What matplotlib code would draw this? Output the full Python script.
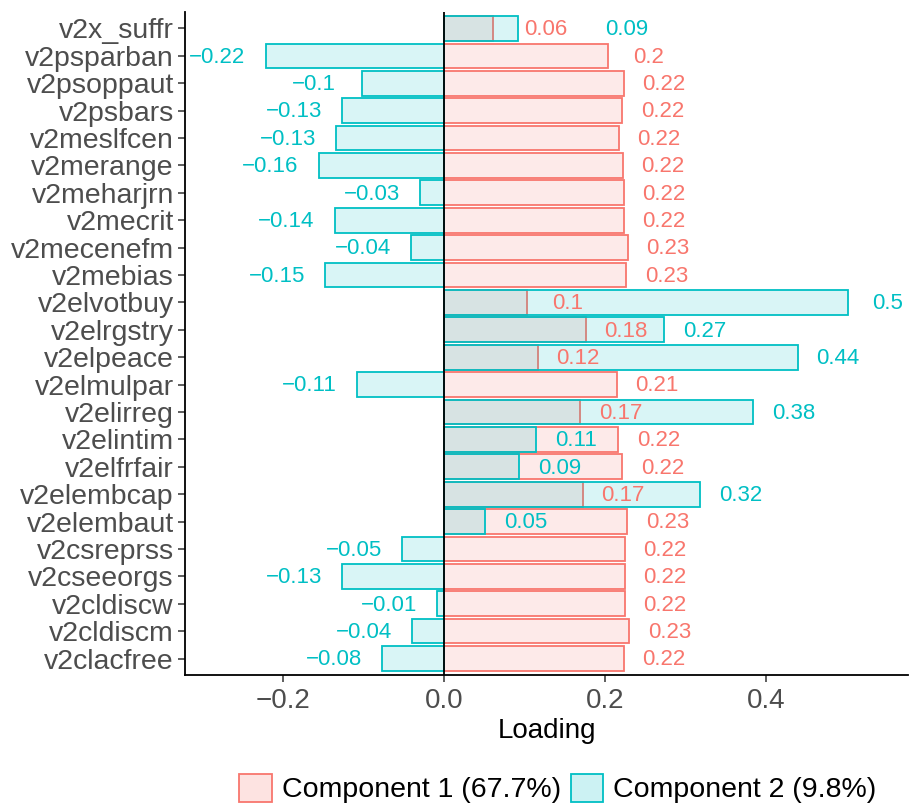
import matplotlib.pyplot as plt
from matplotlib.patches import Patch
from matplotlib.colors import to_rgba
import numpy as np

plt.rcParams['font.family'] = ['Liberation Sans', 'DejaVu Sans']

# loadings
variables = ['v2x_suffr', 'v2psparban', 'v2psoppaut', 'v2psbars', 'v2meslfcen',
             'v2merange', 'v2meharjrn', 'v2mecrit', 'v2mecenefm', 'v2mebias',
             'v2elvotbuy', 'v2elrgstry', 'v2elpeace', 'v2elmulpar', 'v2elirreg',
             'v2elintim', 'v2elfrfair', 'v2elembcap', 'v2elembaut', 'v2csreprss',
             'v2cseeorgs', 'v2cldiscw', 'v2cldiscm', 'v2clacfree']
comp1 = [0.060, 0.204, 0.223, 0.221, 0.217, 0.222, 0.223, 0.223, 0.228, 0.226,
         0.103, 0.176, 0.116, 0.214, 0.169, 0.216, 0.221, 0.172, 0.227, 0.224,
         0.224, 0.224, 0.230, 0.223]
comp2 = [0.091, -0.222, -0.102, -0.127, -0.134, -0.156, -0.030, -0.136, -0.041, -0.148,
         0.501, 0.273, 0.439, -0.108, 0.384, 0.114, 0.093, 0.318, 0.051, -0.052,
         -0.127, -0.009, -0.040, -0.077]
legend_labels = ['Component 1 (67.7%)', 'Component 2 (9.8%)']

red = '#F8766D'
cyan = '#00BFC4'

fig = plt.figure(figsize=(9.1, 8.08), dpi=100)
ax = fig.add_axes([185 / 910, 1 - 675 / 808, 723 / 910, 663 / 808])

y = np.arange(len(variables))
ax.barh(y, comp1, height=0.9, color=to_rgba(red, 0.15), edgecolor=red, linewidth=1.3)
ax.barh(y, comp2, height=0.9, color=to_rgba(cyan, 0.15), edgecolor=cyan, linewidth=1.3)
ax.axvline(0, color='black', linewidth=1.3)


def fmt(v):
    return f"{round(v, 2):g}".replace('-', '\u2212')


def label_x(v):
    return v + 0.05 if v >= 0 else v - 0.06


# value labels, with a crude push apart when the two labels collide
for i in range(len(variables)):
    x1, x2 = label_x(comp1[i]), label_x(comp2[i])
    if abs(x1 - x2) < 0.07:
        inner = max(comp1[i], comp2[i]) + 0.035
        if x1 <= x2:
            x1, x2 = inner, inner + 0.1
        else:
            x2, x1 = inner, inner + 0.1
    ax.text(x1, i + 0.05, fmt(comp1[i]), color=red, fontsize=16, ha='center', va='center')
    ax.text(x2, i + 0.05, fmt(comp2[i]), color=cyan, fontsize=16, ha='center', va='center')

ax.set_xlim(-0.322, 0.576)
ax.set_ylim(len(variables) - 0.4, -0.6)
ax.set_yticks(y)
ax.set_yticklabels(variables)
ax.set_xticks([-0.2, 0.0, 0.2, 0.4])
ax.set_xticklabels(['\u22120.2', '0.0', '0.2', '0.4'])
ax.tick_params(axis='both', colors='#333333', length=5, width=1.1,
               labelcolor='#4D4D4D')
ax.tick_params(axis='x', pad=4, labelsize=20)
ax.tick_params(axis='y', pad=3, labelsize=20.5)
ax.set_xlabel('Loading', fontsize=20, labelpad=3)

for s in ['top', 'right']:
    ax.spines[s].set_visible(False)
for s in ['left', 'bottom']:
    ax.spines[s].set_linewidth(1.3)

handles = [Patch(facecolor=to_rgba(red, 0.2), edgecolor=red, linewidth=1.3),
           Patch(facecolor=to_rgba(cyan, 0.2), edgecolor=cyan, linewidth=1.3)]
fig.legend(handles, legend_labels, loc='center', bbox_to_anchor=(0.613, 0.024),
           ncol=2, frameon=False, fontsize=20.5, handlelength=1.15, handleheight=1.15,
           handletextpad=0.35, columnspacing=0.35)

fig.savefig('out.png', dpi=100)
